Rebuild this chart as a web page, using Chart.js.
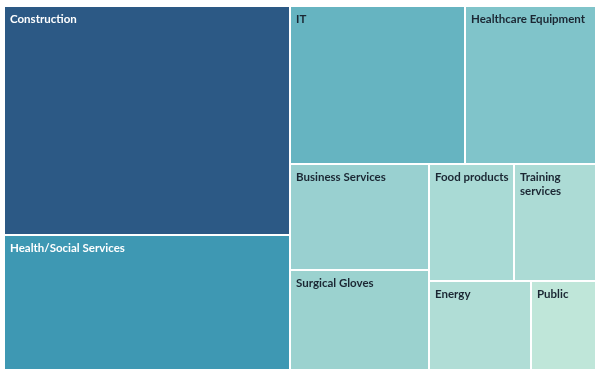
<!DOCTYPE html>
<html><head><meta charset="utf-8">
<script src="https://cdn.jsdelivr.net/npm/chart.js@4/dist/chart.umd.min.js"></script>
<style>html,body{margin:0;padding:0;background:#fff}</style>
</head><body>
<canvas id="c" width="600" height="374"></canvas>
<script>
const categories = ["Construction","Health/Social Services","IT","Healthcare Equipment","Business Services","Surgical Gloves","Food products","Training services","Energy","Public"];
const values = [65.5, 38.6, 27.8, 20.7, 14.8, 13.9, 9.9, 9.5, 9.1, 5.8];
const palette = ["#2c5985","#3e98b3","#66b4c1","#80c4ca","#99d0d0","#9bd2cf","#a9dad5","#acdbd5","#b0ddd6","#bfe6d9"];
const labelColors = ["#ffffff","#ffffff","#1b2733","#1b2733","#1b2733","#1b2733","#1b2733","#1b2733","#1b2733","#1b2733"];

function worst(row, side) {
  const s = row.reduce((a, b) => a + b, 0);
  const thick = s / side;
  let m = 0;
  row.forEach(a => { const len = a / thick; m = Math.max(m, thick / len, len / thick); });
  return m;
}
function squarify(vals, x, y, w, h, tol) {
  const total = vals.reduce((a, b) => a + b, 0);
  const areas = vals.map(v => v / total * w * h);
  const out = [];
  let i = 0;
  while (i < areas.length) {
    const vertical = w >= h;
    const side = vertical ? h : w;
    let row = [areas[i]], j = i + 1, best = worst(row, side);
    while (j < areas.length) {
      const cand = row.concat(areas[j]);
      const wv = worst(cand, side);
      if (wv <= best * tol) { row = cand; best = wv; j++; } else break;
    }
    const s = row.reduce((a, b) => a + b, 0);
    const thick = s / side;
    let off = 0;
    row.forEach(a => {
      const len = a / thick;
      if (vertical) out.push({x0: x, y0: y + off, x1: x + thick, y1: y + off + len});
      else out.push({x0: x + off, y0: y, x1: x + off + len, y1: y + thick});
      off += len;
    });
    if (vertical) { x += thick; w -= thick; } else { y += thick; h -= thick; }
    i = j;
  }
  return out;
}
function wrap(ctx, text, maxW) {
  const words = text.split(' ');
  const lines = [];
  let cur = '';
  words.forEach(wd => {
    const t = cur ? cur + ' ' + wd : wd;
    if (ctx.measureText(t).width > maxW && cur) { lines.push(cur); cur = wd; } else cur = t;
  });
  if (cur) lines.push(cur);
  return lines;
}

const treemapPlugin = {
  id: 'treemap',
  beforeDatasetsDraw(chart) {
    const {ctx, chartArea, scales} = chart;
    const aspect = chartArea.width / chartArea.height;
    const rects = squarify(values, 0, 0, aspect, 1, 1.1);
    ctx.save();
    rects.forEach((r, k) => {
      const X0 = scales.x.getPixelForValue(r.x0 / aspect);
      const X1 = scales.x.getPixelForValue(r.x1 / aspect);
      const Y0 = scales.y.getPixelForValue(r.y0);
      const Y1 = scales.y.getPixelForValue(r.y1);
      const l = Math.round(X0), t = Math.round(Y0), rr = Math.round(X1), b = Math.round(Y1);
      ctx.fillStyle = palette[k];
      ctx.fillRect(l, t, rr - l, b - t);
      ctx.strokeStyle = '#ffffff';
      ctx.lineWidth = 1;
      ctx.strokeRect(l + 0.5, t + 0.5, rr - l - 1, b - t - 1);
      ctx.fillStyle = labelColors[k];
      ctx.font = 'bold 11.5px Lato';
      ctx.textBaseline = 'alphabetic';
      const lines = wrap(ctx, categories[k], rr - l - 10);
      lines.forEach((ln, n) => ctx.fillText(ln, l + 6, t + 17 + n * 13.5));
    });
    ctx.restore();
  }
};

new Chart(document.getElementById('c'), {
  type: 'scatter',
  data: { datasets: [{ data: [] }] },
  options: {
    responsive: false,
    animation: false,
    layout: { padding: { left: 4, top: 6, right: 4, bottom: 4 } },
    plugins: { legend: { display: false }, tooltip: { enabled: false } },
    scales: {
      x: { type: 'linear', min: 0, max: 1, display: false },
      y: { type: 'linear', min: 0, max: 1, reverse: true, display: false }
    }
  },
  plugins: [treemapPlugin]
});
</script>
</body></html>
